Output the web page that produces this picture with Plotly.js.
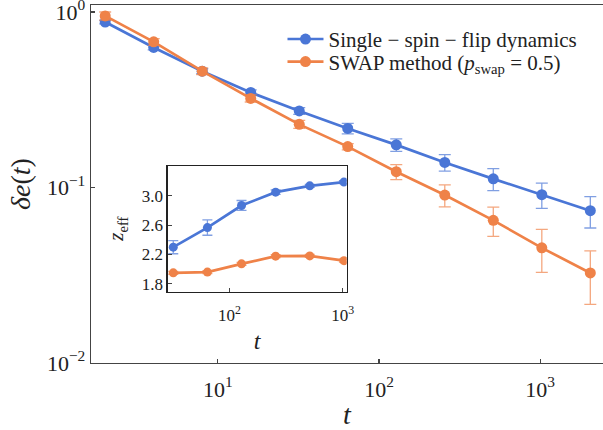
<!DOCTYPE html>
<html>
<head>
<meta charset="utf-8">
<script src="https://cdn.plot.ly/plotly-3.0.1.min.js"></script>
<style>html,body{margin:0;padding:0;overflow:hidden;background:#fff}</style>
</head>
<body>
<div id="chart" style="width:603px;height:430px"></div>
<script>
// ---- data ----
const tMain = [2, 4, 8, 16, 32, 64, 128, 256, 512, 1024, 2048];
const deSingle = [0.877, 0.628, 0.46, 0.348, 0.273, 0.217, 0.175, 0.139, 0.112, 0.091, 0.0738];
const deSingleErr = [0.02, 0.02, 0.015, 0.012, 0.012, 0.015, 0.0145, 0.015, 0.016, 0.015, 0.015];
const deSwap = [0.95, 0.676, 0.46, 0.322, 0.229, 0.171, 0.123, 0.0906, 0.065, 0.0453, 0.0326];
const deSwapErr = [0.05, 0.03, 0.02, 0.015, 0.012, 0.007, 0.012, 0.013, 0.0124, 0.0125, 0.011];

const tInset = [32, 64, 128, 256, 512, 1024];
const zSingle = [2.30, 2.567, 2.868, 3.05, 3.136, 3.187];
const zSingleErr = [0.09, 0.105, 0.068, 0.03, 0.02, 0.02];
const zSwap = [1.95, 1.96, 2.072, 2.177, 2.18, 2.116];
const zSwapErr = [0.02, 0.02, 0.02, 0.02, 0.02, 0.02];

const mainYTickVals = [0.01, 0.1, 1];
const mainYTickText = ['10<sup>−2</sup>', '10<sup>−1</sup>', '10<sup>0</sup>'];
const mainXTickVals = [10, 100, 1000];
const mainXTickText = ['10<sup>1</sup>', '10<sup>2</sup>', '10<sup>3</sup>'];
const insetXTickVals = [100, 1000];
const insetXTickText = ['10<sup>2</sup>', '10<sup>3</sup>'];
const insetYTickVals = [1.8, 2.2, 2.6, 3.0];
const insetYTickText = ['1.8', '2.2', '2.6', '3.0'];

const names = ['Single − spin − flip dynamics', 'SWAP method (<i>p</i><sub>swap</sub> = 0.5)'];

// ---- style ----
const BLUE = '#4a76d6';
const ORANGE = '#ef8248';
const BLUE_E = 'rgba(74,118,214,0.7)';
const ORANGE_E = 'rgba(239,130,72,0.7)';
const FONT = 'Liberation Serif';
const AX = '#444';

function tr(x, y, e, col, ecol, name, xa, ya, show, ms, ew, leg) {
  const t = {
    x: x, y: y, type: 'scatter', mode: 'lines+markers', name: name,
    xaxis: xa, yaxis: ya, showlegend: show,
    line: {color: col, width: 2.7},
    marker: {color: col, size: ms},
    error_y: {type: 'data', array: e, visible: true, color: ecol, thickness: 1.3, width: ew}
  };
  if (leg) t.legend = leg;
  return t;
}

const data = [
  tr(tMain, deSingle, deSingleErr, BLUE, BLUE_E, names[0], 'x', 'y', true, 11, 6, 'legend'),
  tr(tMain, deSwap, deSwapErr, ORANGE, ORANGE_E, names[1], 'x', 'y', true, 11, 6, 'legend2'),
  tr(tInset, zSingle, zSingleErr, BLUE, BLUE_E, names[0], 'x2', 'y2', false, 9, 5),
  tr(tInset, zSwap, zSwapErr, ORANGE, ORANGE_E, names[1], 'x2', 'y2', false, 9, 5)
];

const legStyle = (yv) => ({
  x: 0.374, y: yv, xanchor: 'left', yanchor: 'middle',
  bgcolor: 'rgba(0,0,0,0)', borderwidth: 0,
  font: {family: FONT, size: 21, color: '#222'}, itemwidth: 36
});

const layout = {
  width: 603, height: 430,
  margin: {l: 91, r: 0, t: 5, b: 67},
  paper_bgcolor: '#fff', plot_bgcolor: 'rgba(0,0,0,0)',
  font: {family: FONT, color: '#222', size: 18},
  showlegend: true,
  legend: legStyle(0.904),
  legend2: legStyle(0.841),
  xaxis: {
    type: 'log', range: [0.213, 3.39], domain: [0, 1],
    tickvals: mainXTickVals, ticktext: mainXTickText,
    ticks: 'inside', ticklen: 4, tickcolor: AX, tickwidth: 1.2,
    showline: true, linecolor: AX, linewidth: 1.3, mirror: true,
    showgrid: false, zeroline: false, ticklabeloverflow: 'allow', ticklabelstandoff: 6,
    tickfont: {family: FONT, size: 22, color: '#222'},
    title: {text: '<i>t</i>', font: {family: FONT, size: 28, color: '#222'}, standoff: 6}
  },
  yaxis: {
    type: 'log', range: [-2, 0.04], domain: [0, 1],
    tickvals: mainYTickVals, ticktext: mainYTickText,
    ticks: 'inside', ticklen: 4, tickcolor: AX, tickwidth: 1.2,
    showline: true, linecolor: AX, linewidth: 1.3, mirror: false,
    showgrid: false, zeroline: false, ticklabeloverflow: 'allow',
    tickfont: {family: FONT, size: 22, color: '#222'},
    title: {text: '<i>δe</i>(<i>t</i>)', font: {family: FONT, size: 28, color: '#222'}, standoff: 8}
  },
  xaxis2: {
    type: 'log', range: [1.456, 3.035], domain: [0.1498, 0.4994], anchor: 'y2',
    tickvals: insetXTickVals, ticktext: insetXTickText,
    ticks: 'inside', ticklen: 4, tickcolor: AX, tickwidth: 1,
    showline: true, linecolor: '#222', linewidth: 1.2, mirror: true,
    showgrid: false, zeroline: false, ticklabeloverflow: 'allow', ticklabelstandoff: 8,
    tickfont: {family: FONT, size: 17, color: '#222'},
    title: {text: '<i>t</i>', font: {family: FONT, size: 24, color: '#222'}, standoff: 8}
  },
  yaxis2: {
    range: [1.695, 3.41], domain: [0.1997, 0.551], anchor: 'x2',
    tickvals: insetYTickVals, ticktext: insetYTickText,
    ticks: 'inside', ticklen: 4, tickcolor: AX, tickwidth: 1,
    showline: true, linecolor: '#222', linewidth: 1.2, mirror: true,
    showgrid: false, zeroline: false, ticklabeloverflow: 'allow',
    tickfont: {family: FONT, size: 17, color: '#222'},
    title: {text: '<i>z</i><sub>eff</sub>', font: {family: FONT, size: 21, color: '#222'}, standoff: 12}
  }
};

Plotly.newPlot('chart', data, layout, {staticPlot: true, displayModeBar: false});
</script>
</body>
</html>
